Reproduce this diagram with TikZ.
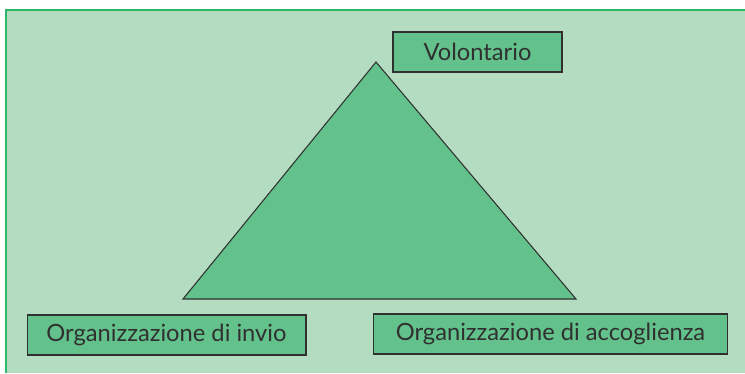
\documentclass[tikz,border=0pt]{standalone}
\usepackage{fontspec}
\setmainfont{Lato}
\usepackage{tikz}

\definecolor{sfondo}{HTML}{B3DCC0}
\definecolor{verde}{HTML}{63C28C}
\definecolor{bordo}{HTML}{2DB865}
\definecolor{testo}{HTML}{303030}

\tikzset{
	ruolo/.style={draw=testo,fill=verde,line width=0.6pt,minimum height=0.8cm,inner sep=0pt,
		text=testo,font=\fontsize{13.5}{16}\selectfont}
}

\begin{document}
\begin{tikzpicture}[x=0.02cm,y=-0.02cm]
	\useasboundingbox (0,0) rectangle (745,373);
	%sfondo
	\fill[sfondo] (6,10) rectangle (745,373);
	\draw[bordo,line width=1.2pt] (6,373) -- (6,10) -- (745,10);
	
	%triangolo
	\coordinate (vertice) at (376,62);
	\coordinate (invio) at (183,299);
	\coordinate (accoglienza) at (576,299);
	\draw[fill=verde,draw=testo,line width=0.6pt] (vertice) -- (invio) -- (accoglienza) -- cycle;
	
	%ruoli
	\node[ruolo,minimum width=3.38cm] (volontario) at (477.5,52) {Volontario};
	\node[ruolo,minimum width=5.58cm] (orginvio) at (166.5,335) {Organizzazione di invio};
	\node[ruolo,minimum width=7.1cm] (orgaccoglienza) at (550.5,334) {Organizzazione di accoglienza};
\end{tikzpicture}
\end{document}
